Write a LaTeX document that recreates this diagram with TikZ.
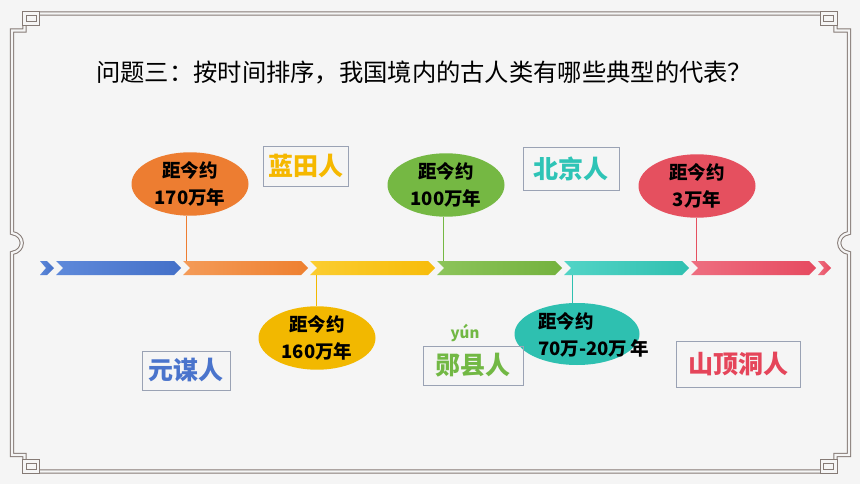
\documentclass[tikz,border=0pt]{standalone}
\usepackage{fontspec}
\usetikzlibrary{shapes.geometric}
\newfontfamily\cjk{Noto Sans CJK SC}
\definecolor{bgc}{HTML}{F5F5F5}
\definecolor{framec}{HTML}{857A75}
\definecolor{boxc}{HTML}{9AA2B4}
\definecolor{blueA}{HTML}{5E89DA}\definecolor{blueB}{HTML}{4470C8}
\definecolor{orgA}{HTML}{F49B58}\definecolor{orgB}{HTML}{EE8030}
\definecolor{yelA}{HTML}{FBCD30}\definecolor{yelB}{HTML}{F7BC0A}
\definecolor{grnA}{HTML}{8CC45A}\definecolor{grnB}{HTML}{74B23E}
\definecolor{tealA}{HTML}{52D4C6}\definecolor{tealB}{HTML}{30C0B0}
\definecolor{redA}{HTML}{EE6E80}\definecolor{redB}{HTML}{E64A60}
\definecolor{eorg}{HTML}{ED7D31}
\definecolor{eyel}{HTML}{F2B800}
\definecolor{egrn}{HTML}{75B843}
\definecolor{eteal}{HTML}{2EC0B0}
\definecolor{ered}{HTML}{E5505F}
\definecolor{tyel}{HTML}{F5B800}
\definecolor{tteal}{HTML}{2EC4B6}
\definecolor{tblue}{HTML}{4A74CC}
\definecolor{tgrn}{HTML}{72B844}
\definecolor{tred}{HTML}{E5455A}
\tikzset{
  frame/.style={draw=framec, double=bgc, double distance=2.2pt, line width=1pt},
  etext/.style={font=\cjk\bfseries\fontsize{18.5}{27}\selectfont, text=black},
  ell/.style={ellipse, minimum width=117pt, minimum height=61pt, inner sep=0pt, align=center, etext},
  lbl/.style={draw=boxc, line width=0.7pt, inner sep=0pt, font=\cjk\bfseries\fontsize{25}{25}\selectfont},
  stem/.style={line width=0.9pt}
}
\begin{document}
\begin{tikzpicture}[x=1pt,y=-1pt]
\useasboundingbox (0,0) rectangle (860,484);
\fill[bgc] (0,0) rectangle (860,484);
% frame
\draw[frame] (12,30.5) -- (24.5,30.5) -- (24.5,13.5) -- (835.5,13.5) -- (835.5,30.5) -- (849,30.5)
  -- (849,233) .. controls (836,235) and (836,251) .. (849,253)
  -- (849,455) -- (835.5,455) -- (835.5,471.5) -- (24.5,471.5) -- (24.5,455) -- (12,455)
  -- (12,253) .. controls (25,251) and (25,235) .. (12,233) -- cycle;
\draw[frame] (24.5,13.5) rectangle (38,23.5);
\draw[frame] (835.5,13.5) rectangle (822,23.5);
\draw[frame] (24.5,471.5) rectangle (38,461.5);
\draw[frame] (835.5,471.5) rectangle (822,461.5);
% title
\node[anchor=west, font=\cjk\fontsize{24.3}{24.3}\selectfont, inner sep=0pt] (title) at (96,73)
  {问题三：按时间排序，我国境内的古人类有哪些典型的代表？};
% timeline segments
\shade[left color=blueA, right color=blueB] (40,261) -- (47,261) -- (54,268) -- (47,275) -- (40,275) -- (46,268) -- cycle;
\foreach \x/\ca/\cb in {56/blueA/blueB,183/orgA/orgB,310/yelA/yelB,437/grnA/grnB,564/tealA/tealB,691/redA/redB}{
  \shade[left color=\ca, right color=\cb] (\x,261) -- ++(118,0) -- ++(7,7) -- ++(-7,7) -- ++(-118,0) -- ++(7,-7) -- cycle;
}
\shade[left color=redA, right color=redB] (818,261) -- (824,261) -- (831,268) -- (824,275) -- (818,275) -- (824,268) -- cycle;
% band anchor points
\coordinate (b1) at (186,261);
\coordinate (b2) at (316,275);
\coordinate (b3) at (443,261);
\coordinate (b4) at (572,275);
\coordinate (b5) at (696,261);
% ellipses
\node[ell, fill=eorg] (e1) at (190,184) {距今约\\170万年};
\node[ell, fill=eyel] (e2) at (317,338) {距今约\\160万年};
\node[ell, fill=egrn] (e3) at (446,185) {距今约\\100万年};
\node[ell, fill=eteal, minimum width=125pt, minimum height=62pt] (e4) at (577,334) {};
\node[anchor=west, align=left, inner sep=0pt, etext] (t4) at (538,335) {距今约\\70万-20万\,年};
\node[ell, fill=ered] (e5) at (697,186) {距今约\\3万年};
% stems
\draw[stem, eorg] (b1) -- (b1 |- e1.south);
\draw[stem, eyel] (b2) -- (b2 |- e2.north);
\draw[stem, egrn] (b3) -- (b3 |- e3.south);
\draw[stem, eteal] (b4) -- (b4 |- e4.north);
\draw[stem, ered] (b5) -- (b5 |- e5.south);
% labels
\node[lbl, minimum width=85pt, minimum height=40pt, text=tyel] (lantian) at (305.5,166) {蓝田人};
\node[lbl, minimum width=96pt, minimum height=43pt, text=tteal] (beijing) at (571,168.5) {北京人};
\node[lbl, minimum width=88pt, minimum height=39pt, text=tblue] (yuanmou) at (186,370.5) {元谋人};
\node[lbl, minimum width=100pt, minimum height=39pt, text=tgrn] (yunxian) at (473,365.5) {郧县人};
\node[font=\cjk\bfseries\fontsize{15}{15}\selectfont, text=tgrn, inner sep=0pt] (yun) at (465,333) {yún};
\node[lbl, minimum width=124pt, minimum height=46pt, text=tred] (shanding) at (738,364) {山顶洞人};
\end{tikzpicture}
\end{document}
